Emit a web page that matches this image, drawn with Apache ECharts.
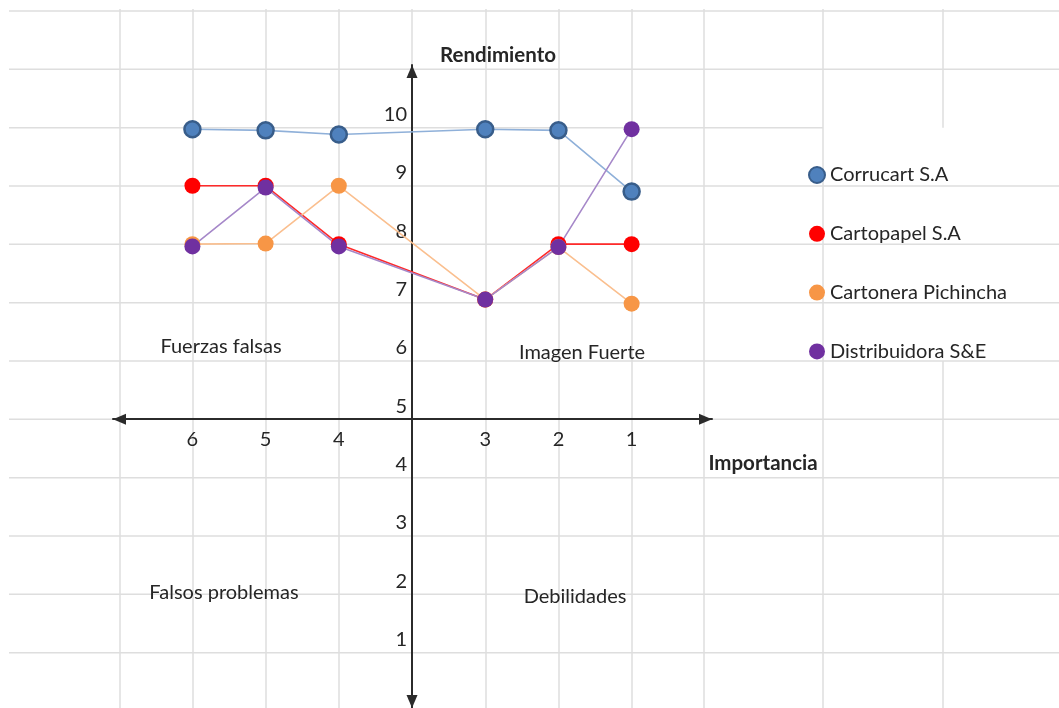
<!DOCTYPE html>
<html>
<head>
<meta charset="utf-8">
<script src="https://cdn.jsdelivr.net/npm/echarts@6/dist/echarts.min.js"></script>
<style>
  html, body { margin: 0; padding: 0; background: #ffffff; }
  #chart { width: 1059px; height: 708px; }
</style>
</head>
<body>
<div id="chart"></div>
<script>
// Importance levels along the horizontal axis (left of the vertical axis: 6,5,4; right: 3,2,1)
const importance = [6, 5, 4, 3, 2, 1];

// Performance ("Rendimiento") per company, in the same order as `importance`
const seriesNames = ['Corrucart S.A', 'Cartopapel S.A', 'Cartonera Pichincha', 'Distribuidora S&E'];
const corrucart     = [9.97, 9.95, 9.88, 9.97, 9.95, 8.9];
const cartopapel    = [9, 9, 8, 7.05, 8, 8];
const cartonera     = [8, 8.01, 9, 7.05, 7.95, 6.98];
const distribuidora = [7.96, 8.97, 7.96, 7.05, 7.95, 9.97];

// Tick labels on the vertical axis
const yTicks = [1, 2, 3, 4, 5, 6, 7, 8, 9, 10];

// Quadrant captions
const quadrants = ['Fuerzas falsas', 'Imagen Fuerte', 'Falsos problemas', 'Debilidades'];

// Axis layout: the vertical axis sits between importance 4 and 3,
// the horizontal axis crosses it at Rendimiento = 5.
const Y_MIN = 0.05, Y_MAX = 11.07, Y_CROSS = 5;
const X_MIN = -4.085, X_MAX = 4.098, X_CROSS = 0;
const GRID = { left: 113, right: 347, top: 65, bottom: 0 };
// position of an importance level on the horizontal axis (vertical axis at 0)
const slotOf = imp => (imp > 3 ? 3 - imp : 4 - imp);
const slotTicks = importance.map(slotOf);

const FONT = 'Lato, "Open Sans", sans-serif';
const TEXT = '#262626';
const FS = 20;

const chart = echarts.init(document.getElementById('chart'), null, { renderer: 'canvas' });
const W = chart.getWidth(), H = chart.getHeight();
const plotW = W - GRID.left - GRID.right;
const plotH = H - GRID.top - GRID.bottom;
// shift each axis from the plot edge onto the crossing value of the other axis
const xAxisOffset = -(Y_CROSS - Y_MIN) / (Y_MAX - Y_MIN) * plotH;
const yAxisOffset = -(X_CROSS - X_MIN) / (X_MAX - X_MIN) * plotW;

// Spreadsheet-style cell lines behind the chart
const CELL_LINE = { stroke: '#dedede', lineWidth: 1.5 };
const rowTop = 11, rowH = 58.33, rowCount = 12;
const colX = [120, 193, 266, 339, 412, 486, 559, 632, 704, 823, 943];
const cells = [];
for (let r = 0; r < rowCount; r++) {
  const y = rowTop + r * rowH;
  const x2 = r === 2 ? 823 : W;
  cells.push({ type: 'line', z: -1, silent: true, shape: { x1: 9, y1: y, x2: x2, y2: y }, style: CELL_LINE });
}
colX.forEach(x => {
  if (x === 943) {
    cells.push({ type: 'line', z: -1, silent: true, shape: { x1: x, y1: 9, x2: x, y2: rowTop + 2 * rowH }, style: CELL_LINE });
    cells.push({ type: 'line', z: -1, silent: true, shape: { x1: x, y1: rowTop + 6 * rowH, x2: x, y2: H }, style: CELL_LINE });
  } else {
    cells.push({ type: 'line', z: -1, silent: true, shape: { x1: x, y1: 9, x2: x, y2: H }, style: CELL_LINE });
  }
});

function textEl(str, cx, cy, bold) {
  return {
    type: 'text', z: 5, silent: true,
    x: cx, y: cy,
    style: {
      text: str, fill: TEXT, font: (bold ? 'bold 20.5px ' : FS + 'px ') + FONT,
      align: 'center', verticalAlign: 'middle'
    }
  };
}

const labels = [
  textEl('Rendimiento', 498, 55, true),
  textEl('Importancia', 763, 463, true),
  textEl(quadrants[0], 221, 347),
  textEl(quadrants[1], 582, 353),
  textEl(quadrants[2], 224, 593),
  textEl(quadrants[3], 575, 597)
];

const toPoints = vals => importance.map((imp, k) => [slotOf(imp), vals[k]]);

function lineSeries(name, vals, marker, line, extra) {
  return {
    name: name,
    type: 'line',
    data: toPoints(vals),
    symbol: 'circle',
    symbolSize: 16,
    itemStyle: Object.assign({ color: marker }, extra || {}),
    lineStyle: { color: line, width: 1.6 },
    emphasis: { disabled: true },
    animation: false
  };
}

const AXIS_COLOR = '#2b2b2b';
// arrow heads end exactly at the axis ends
const ARROW = { symbol: ['triangle', 'triangle'], symbolSize: [11, 13], symbolOffset: [6.5, -6.5] };

chart.setOption({
  animation: false,
  backgroundColor: 'transparent',
  graphic: cells.concat(labels),
  grid: GRID,
  legend: {
    orient: 'vertical',
    left: 808, top: 165,
    padding: 0,
    icon: 'circle',
    itemWidth: 16, itemHeight: 16, itemGap: 38.8,
    selectedMode: false,
    textStyle: { color: TEXT, fontSize: FS, fontFamily: FONT, lineHeight: 16 },
    data: seriesNames
  },
  xAxis: {
    type: 'value',
    min: X_MIN, max: X_MAX,
    position: 'bottom',
    offset: xAxisOffset,
    axisLine: Object.assign({
      show: true, onZero: false,
      lineStyle: { color: AXIS_COLOR, width: 2 }
    }, ARROW),
    axisTick: { show: false },
    splitLine: { show: false },
    axisLabel: {
      customValues: slotTicks,
      formatter: v => String(importance[slotTicks.indexOf(v)]),
      color: TEXT, fontSize: FS, fontFamily: FONT, margin: 10
    }
  },
  yAxis: {
    type: 'value',
    min: Y_MIN, max: Y_MAX,
    position: 'left',
    offset: yAxisOffset,
    axisLine: Object.assign({
      show: true, onZero: false,
      lineStyle: { color: AXIS_COLOR, width: 2 }
    }, ARROW),
    axisTick: { show: false },
    splitLine: { show: false },
    axisLabel: {
      customValues: yTicks,
      color: TEXT, fontSize: FS, fontFamily: FONT,
      margin: 5, verticalAlign: 'bottom', lineHeight: 18, padding: [0, 0, 4, 0]
    }
  },
  series: [
    lineSeries(seriesNames[0], corrucart, '#4f81bd', '#8fb0d9', { borderColor: '#385d8a', borderWidth: 2.5 }),
    lineSeries(seriesNames[1], cartopapel, '#ff0000', '#ff2a2a'),
    lineSeries(seriesNames[2], cartonera, '#f79646', '#fabf8f'),
    lineSeries(seriesNames[3], distribuidora, '#7030a0', '#a688c9')
  ]
});
</script>
</body>
</html>
